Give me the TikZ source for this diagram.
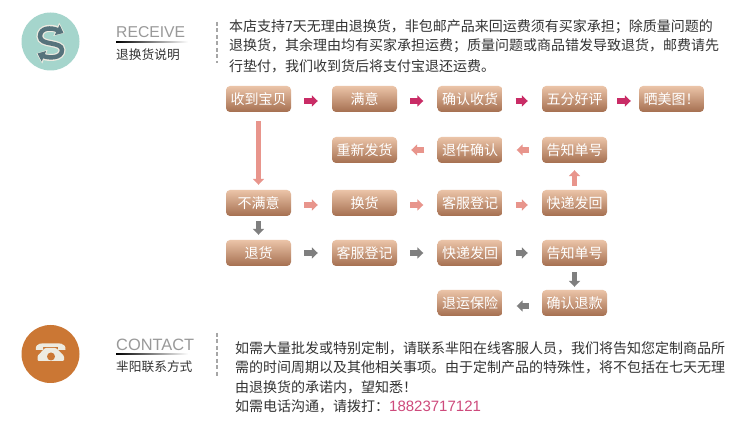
\documentclass[tikz,border=0pt]{standalone}
\usepackage{fontspec}
\usepackage{xcolor}
\usetikzlibrary{arrows.meta}
\setmainfont{Liberation Sans}
\newfontfamily\cjk{Noto Sans CJK SC}
\definecolor{boxtop}{HTML}{EBC4A8}
\definecolor{boxbot}{HTML}{A56F50}
\definecolor{rosearrow}{HTML}{C92C66}
\definecolor{salmonarrow}{HTML}{E8958C}
\definecolor{greyarrow}{HTML}{7F7F7F}
\definecolor{mintround}{HTML}{A5D5CC}
\definecolor{slateicon}{HTML}{56737C}
\definecolor{orangeround}{HTML}{CB7734}
\definecolor{creamicon}{HTML}{EDEBE1}
\definecolor{bodytext}{HTML}{333333}
\definecolor{phonetext}{HTML}{CE4A7C}
\tikzset{
	stepbox/.style={rounded corners=4pt, top color=boxtop, bottom color=boxbot, draw=none, minimum width=65pt, minimum height=26pt, inner sep=0pt, text=white, font=\cjk\fontsize{14}{14}\selectfont},
	flow/.style={line width=5.5pt, -{Triangle[length=6pt,width=11pt]}, shorten >=14pt, shorten <=13pt},
	rose/.style={flow, rosearrow, transform canvas={yshift=-2pt}},
	salmon/.style={flow, salmonarrow},
	grey/.style={flow, greyarrow},
	bodyline/.style={anchor=west, inner sep=0pt, text=bodytext, font=\cjk\fontsize{14}{14}\selectfont},
	headword/.style={anchor=west, inner sep=0pt, text=black!40, font=\fontsize{15.7}{15.7}\selectfont},
	subword/.style={anchor=west, inner sep=0pt, text=black!80, font=\cjk\fontsize{12.7}{12.7}\selectfont},
	dashrule/.style={draw=black!35, line width=1.5pt, dash pattern=on 4pt off 2.5pt}
}
\begin{document}
\begin{tikzpicture}[x=1pt,y=-1pt]
	\useasboundingbox (0,0) rectangle (750,435);
	\fill[white] (0,0) rectangle (750,435);
	% receive heading
	\node[circle, fill=mintround, minimum size=58pt, inner sep=0pt] (receiveround) at (50.5,41.5){};
	\draw[creamicon, line width=7pt, {Triangle[length=9pt,width=14pt]}-{Triangle[length=9pt,width=14pt]}] (64.5,33) .. controls (52,27.5) and (40,27) .. (40,36.5) .. controls (40,46) and (62,41) .. (62,50) .. controls (62,59) and (48,58) .. (36.5,53.5);
	\draw[slateicon, line width=4.5pt, {Triangle[length=7pt,width=11pt]}-{Triangle[length=7pt,width=11pt]}] (63.5,33) .. controls (52,27.5) and (40,27) .. (40,36.5) .. controls (40,46) and (62,41) .. (62,50) .. controls (62,59) and (48,58) .. (37.5,53.5);
	\node[headword] (receiveword) at (116,32){RECEIVE};
	\node[subword] (receivesub) at (116,55){退换货说明};
	\shade[left color=black, right color=white] (116,42) rectangle (188,42.8);
	\draw[dashrule] (217,22)--(217,63);
	\node[bodyline] (introa) at (229,26.5){本店支持7天无理由退换货，非包邮产品来回运费须有买家承担；除质量问题的};
	\node[bodyline] (introb) at (229,46){退换货，其余理由均有买家承担运费；质量问题或商品错发导致退货，邮费请先};
	\node[bodyline] (introc) at (229,66){行垫付，我们收到货后将支付宝退还运费。};
	% first row
	\node[stepbox] (got) at (258.5,99){收到宝贝};
	\node[stepbox] (happy) at (364.5,99){满意};
	\node[stepbox] (confirm) at (470,99){确认收货};
	\node[stepbox] (praise) at (574.5,99){五分好评};
	\node[stepbox] (photo) at (671.5,99){晒美图！};
	% second row
	\node[stepbox] (resend) at (364.5,150){重新发货};
	\node[stepbox] (returnok) at (470,150){退件确认};
	\node[stepbox] (noticea) at (574.5,150){告知单号};
	% third row
	\node[stepbox] (unhappy) at (258.5,203){不满意};
	\node[stepbox] (swap) at (364.5,203){换货};
	\node[stepbox] (servicea) at (470,203){客服登记};
	\node[stepbox] (posta) at (574.5,203){快递发回};
	% fourth row
	\node[stepbox] (refund) at (258.5,253){退货};
	\node[stepbox] (serviceb) at (364.5,253){客服登记};
	\node[stepbox] (postb) at (470,253){快递发回};
	\node[stepbox] (noticeb) at (574.5,253){告知单号};
	% fifth row
	\node[stepbox] (insure) at (470,303){退运保险};
	\node[stepbox] (refundok) at (574.5,303){确认退款};
	% arrows
	\draw[rose] (got)--(happy);
	\draw[rose] (happy)--(confirm);
	\draw[rose] (confirm)--(praise);
	\draw[rose, shorten >=8pt, shorten <=10pt] (praise)--(photo);
	\draw[salmon, shorten <=9pt, shorten >=5pt] (got)--(unhappy);
	\draw[salmon] (noticea)--(returnok);
	\draw[salmon] (returnok)--(resend);
	\draw[salmon, shorten <=4pt, shorten >=7pt] (posta)--(noticea);
	\draw[salmon, transform canvas={yshift=-2pt}] (unhappy)--(swap);
	\draw[salmon, transform canvas={yshift=-2pt}] (swap)--(servicea);
	\draw[salmon, transform canvas={yshift=-2pt}] (servicea)--(posta);
	\draw[grey, shorten <=5pt, shorten >=5pt] (unhappy)--(refund);
	\draw[grey] (refund)--(serviceb);
	\draw[grey] (serviceb)--(postb);
	\draw[grey] (postb)--(noticeb);
	\draw[grey, shorten <=6pt, shorten >=3pt] (noticeb)--(refundok);
	\draw[grey, transform canvas={yshift=-3pt}] (refundok)--(insure);
	% contact heading
	\node[circle, fill=orangeround, minimum size=58pt, inner sep=0pt] (contactround) at (50.5,354){};
	\fill[creamicon] (36,350) .. controls (35,342) and (42,343.5) .. (50.5,343.5) .. controls (59,343.5) and (66,342) .. (65.5,350) -- (58,350) -- (58,347) -- (43,347) -- (43,350) -- cycle;
	\fill[creamicon, rounded corners=1pt] (45,348) -- (56,348) -- (64,356) -- (64,361) -- (37.5,361) -- (37.5,356) -- cycle;
	\fill[orangeround] (51,356.5) circle (4pt);
	\node[headword, font=\fontsize{16.4}{16.4}\selectfont] (contactword) at (116,345){CONTACT};
	\node[subword] (contactsub) at (116,367){芈阳联系方式};
	\shade[left color=black, right color=white] (116,354) rectangle (188,354.8);
	\draw[dashrule] (217,333)--(217,376);
	\node[bodyline] (contacta) at (235,348){如需大量批发或特别定制，请联系芈阳在线客服人员，我们将告知您定制商品所};
	\node[bodyline] (contactb) at (235,367){需的时间周期以及其他相关事项。由于定制产品的特殊性，将不包括在七天无理};
	\node[bodyline] (contactc) at (235,387){由退换货的承诺内，望知悉！};
	\node[bodyline] (contactd) at (235,406){如需电话沟通，请拨打：\textcolor{phonetext}{\rmfamily\fontsize{15}{15}\selectfont 18823717121}};
\end{tikzpicture}
\end{document}
